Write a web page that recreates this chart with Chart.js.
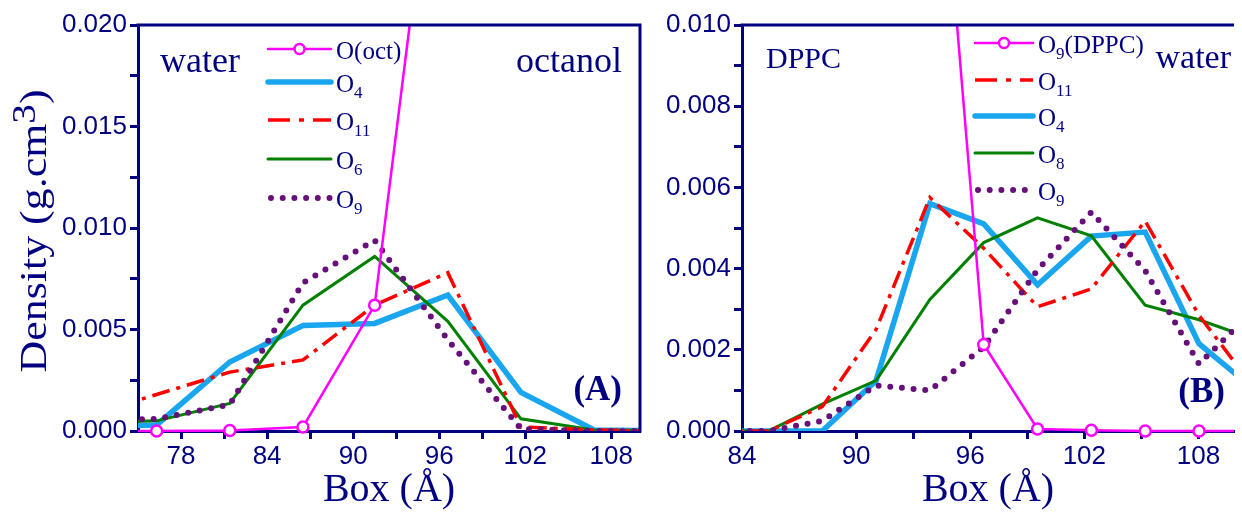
<!DOCTYPE html>
<html>
<head>
<meta charset="utf-8">
<script src="https://cdn.jsdelivr.net/npm/chart.js@4.4.1/dist/chart.umd.min.js"></script>
<style>
  body { margin: 0; background: #fff; width: 1242px; height: 516px; overflow: hidden; position: relative; }
  canvas { position: absolute; top: 0; }
  #chartA { left: 0; }
  #chartB { left: 648px; }
</style>
</head>
<body>
<canvas id="chartA" width="648" height="516"></canvas>
<canvas id="chartB" width="594" height="516"></canvas>
<script>
// panel A : water | octanol
const boxA = [71.2, 76.3, 81.4, 86.5, 91.5, 96.6, 101.7, 106.8, 111.9]
const octA = [0, 0, 0.00002, 0.0002, 0.0062, 0.035, null, null, null]
const o4A = [0.0002, 0.0003, 0.0034, 0.0052, 0.0053, 0.0067, 0.0019, 0.00005, 0]
const o11A = [0.0007, 0.0018, 0.0029, 0.0035, 0.0062, 0.0078, 0.0002, 0.00005, 0]
const o6A = [0.0004, 0.0005, 0.00136, 0.0062, 0.0086, 0.0054, 0.0006, 0.00005, 0]
const o9A = [0.0005, 0.0006, 0.0013, 0.0073, 0.0094, 0.0045, 0.0001, 0, 0]
const xTicksA = [78, 81, 84, 87, 90, 93, 96, 99, 102, 105, 108]

// panel B : DPPC | water
const boxB = [82.56, 85.39, 88.22, 91.05, 93.88, 96.71, 99.54, 102.37, 105.2, 108.03, 110.86]
const dppcB = [null, null, null, null, 0.018, 0.00213, 0.00005, 0.00002, 0, 0, 0]
const o11B = [0, 0, 0.0006, 0.0025, 0.00575, 0.0045, 0.00306, 0.0035, 0.00517, 0.00285, 0.0011]
const o4B = [0, 0, 0, 0.00124, 0.0056, 0.0051, 0.0036, 0.0048, 0.0049, 0.00215, 0.00105]
const o8B = [0, 0, 0.00066, 0.00124, 0.00324, 0.00464, 0.00525, 0.00481, 0.0031, 0.00274, 0.00227]
const o9B = [0, 0, 0.00025, 0.00112, 0.001, 0.00207, 0.00397, 0.00539, 0.00395, 0.00165, 0.00295]
const xTicksB = [84, 87, 90, 93, 96, 99, 102, 105, 108]

const NAVY = '#000080'
const SERIF = "'Liberation Serif', 'Times New Roman', serif"
const SANS = "'Liberation Sans', Arial, sans-serif"

const LINE = {
  mag: { color: '#ff00ff', width: 2.5, dash: [], marker: true },
  blue: { color: '#19a6ee', width: 5.5, dash: [] },
  red: { color: '#ff0000', width: 3.5, dash: [18, 7, 4, 7] },
  green: { color: '#008000', width: 3, dash: [] },
  dots: { color: '#66107a', width: 6, dash: [0, 11.7], cap: 'round' }
}

const makeSet = (xs, ys, st) => ({
  data: xs.map((x, i) => ({ x, y: ys[i] })),
  borderColor: st.color,
  borderWidth: st.width,
  borderDash: st.dash,
  borderCapStyle: st.cap || 'butt',
  pointRadius: st.marker ? 5.5 : 0,
  pointHoverRadius: 0,
  pointBackgroundColor: '#fff',
  pointBorderColor: st.color,
  pointBorderWidth: 2.5,
  tension: 0,
  clip: st.marker ? { left: 0, top: 0, right: 0, bottom: 10 } : 0
})

// label parts: [text, subscript, text]
const drawLegend = (ctx, items, x0, x1, rows) => {
  items.forEach(([parts, st], i) => {
    const y = rows[i]
    ctx.save()
    ctx.strokeStyle = st.color
    ctx.lineWidth = st.width
    ctx.lineCap = st.cap || (st.dash.length ? 'butt' : 'round')
    ctx.setLineDash(st.dash.length && !st.cap ? [22, 9, 5, 9] : st.dash)
    ctx.beginPath()
    ctx.moveTo(st.cap ? x0 + 3 : x0, y)
    ctx.lineTo(x1, y)
    ctx.stroke()
    if (st.marker) {
      ctx.setLineDash([])
      ctx.fillStyle = '#fff'
      ctx.beginPath()
      ctx.arc((x0 + x1) / 2, y, 5, 0, Math.PI * 2)
      ctx.fill()
      ctx.stroke()
    }
    ctx.fillStyle = NAVY
    ctx.textBaseline = 'alphabetic'
    let tx = x1 + 5
    parts.forEach((p, k) => {
      if (!p) return
      const sub = k === 1
      ctx.font = (sub ? '17px ' : '25px ') + SERIF
      ctx.fillText(p, tx, y + (sub ? 16 : 10))
      tx += ctx.measureText(p).width
    })
    ctx.restore()
  })
}

const note = (ctx, text, x, y, size, align, bold) => {
  ctx.font = (bold ? 'bold ' : '') + size + 'px ' + SERIF
  ctx.textAlign = align
  ctx.textBaseline = 'alphabetic'
  ctx.fillStyle = NAVY
  ctx.fillText(text, x, y)
}

const decorA = {
  id: 'decorA',
  afterDraw(chart) {
    const { ctx, chartArea: a } = chart
    ctx.save()
    ctx.strokeStyle = NAVY
    ctx.lineWidth = 3
    ctx.beginPath()
    ctx.moveTo(a.left - 1.5, a.top)
    ctx.lineTo(a.right, a.top)
    ctx.lineTo(a.right, a.bottom + 1.5)
    ctx.stroke()
    drawLegend(ctx, [
      [['O(oct)'], LINE.mag],
      [['O', '4'], LINE.blue],
      [['O', '11'], LINE.red],
      [['O', '6'], LINE.green],
      [['O', '9'], LINE.dots]
    ], 268, 331, [49, 82, 120, 159, 198])
    note(ctx, 'water', 160, 72, 36, 'left')
    note(ctx, 'octanol', 622, 72, 36, 'right')
    note(ctx, '(A)', 622, 400, 35, 'right', true)
    // y title with superscript 3
    ctx.translate(46, 231)
    ctx.rotate(-Math.PI / 2)
    const parts = [['Density (g.cm', 37, 0], ['3', 33, -11], [')', 37, 0]]
    let len = 0
    parts.forEach(p => { ctx.font = p[1] + 'px ' + SERIF; len += ctx.measureText(p[0]).width })
    ctx.scale(283 / len, 1)
    let px = -len / 2
    ctx.fillStyle = NAVY
    ctx.textAlign = 'left'
    parts.forEach(p => {
      ctx.font = p[1] + 'px ' + SERIF
      ctx.fillText(p[0], px, p[2])
      px += ctx.measureText(p[0]).width
    })
    ctx.restore()
  }
}

const decorB = {
  id: 'decorB',
  afterDraw(chart) {
    const { ctx, chartArea: a } = chart
    ctx.save()
    ctx.strokeStyle = NAVY
    ctx.lineWidth = 3
    ctx.beginPath()
    ctx.moveTo(a.left - 1.5, a.top)
    ctx.lineTo(a.right, a.top)
    ctx.stroke()
    drawLegend(ctx, [
      [['O', '9', '(DPPC)'], LINE.mag],
      [['O', '11'], LINE.red],
      [['O', '4'], LINE.blue],
      [['O', '8'], LINE.green],
      [['O', '9'], LINE.dots]
    ], 327, 385, [43, 80, 116, 153, 190])
    note(ctx, 'DPPC', 118, 68, 30, 'left')
    note(ctx, 'water', 583, 68, 34, 'right')
    note(ctx, '(B)', 577, 402, 35, 'right', true)
    ctx.restore()
  }
}

const isStep = (v, step) => Math.abs(v / step - Math.round(v / step)) < 1e-6

const buildChart = (id, datasets, xr, xTicks, yMax, yStep, yWidth, plugin) => new Chart(id, {
  type: 'line',
  data: { datasets },
  options: {
    responsive: false,
    animation: false,
    events: [],
    layout: { padding: { top: 25, right: id === 'chartA' ? 5 : 0, left: 0, bottom: 0 } },
    plugins: { legend: { display: false }, tooltip: { enabled: false } },
    scales: {
      x: {
        type: 'linear',
        min: xr[0],
        max: xr[1],
        afterBuildTicks: s => { s.ticks = xTicks.map(value => ({ value })) },
        afterFit: s => { s.height = 85 },
        border: { color: NAVY, width: 3 },
        grid: { drawOnChartArea: false, tickLength: 8, tickWidth: 3, color: NAVY },
        ticks: {
          autoSkip: false,
          maxRotation: 0,
          padding: 2,
          color: NAVY,
          font: { family: SANS, size: 26 },
          callback: v => isStep(v, 6) ? String(Math.round(v)) : ''
        },
        title: {
          display: true,
          text: 'Box (Å)',
          color: NAVY,
          font: { family: SERIF, size: 40, lineHeight: 1 },
          padding: { top: 0, bottom: 6 }
        }
      },
      y: {
        min: 0,
        max: yMax,
        afterFit: s => { s.width = yWidth },
        border: { color: NAVY, width: 3 },
        grid: { drawOnChartArea: false, tickLength: 8, tickWidth: 3, color: NAVY },
        ticks: {
          stepSize: yStep / 2,
          autoSkip: false,
          padding: 3,
          color: NAVY,
          font: { family: SANS, size: 26 },
          callback: v => isStep(v, yStep) ? v.toFixed(3) : ''
        }
      }
    }
  },
  plugins: [plugin]
})

buildChart('chartA', [
  makeSet(boxA, octA, LINE.mag),
  makeSet(boxA, o9A, LINE.dots),
  makeSet(boxA, o11A, LINE.red),
  makeSet(boxA, o6A, LINE.green),
  makeSet(boxA, o4A, LINE.blue)
], [75, 110], xTicksA, 0.02, 0.005, 138, decorA)

buildChart('chartB', [
  makeSet(boxB, dppcB, LINE.mag),
  makeSet(boxB, o9B, LINE.dots),
  makeSet(boxB, o11B, LINE.red),
  makeSet(boxB, o8B, LINE.green),
  makeSet(boxB, o4B, LINE.blue)
], [84, 109.87], xTicksB, 0.01, 0.002, 94, decorB)
</script>
</body>
</html>
